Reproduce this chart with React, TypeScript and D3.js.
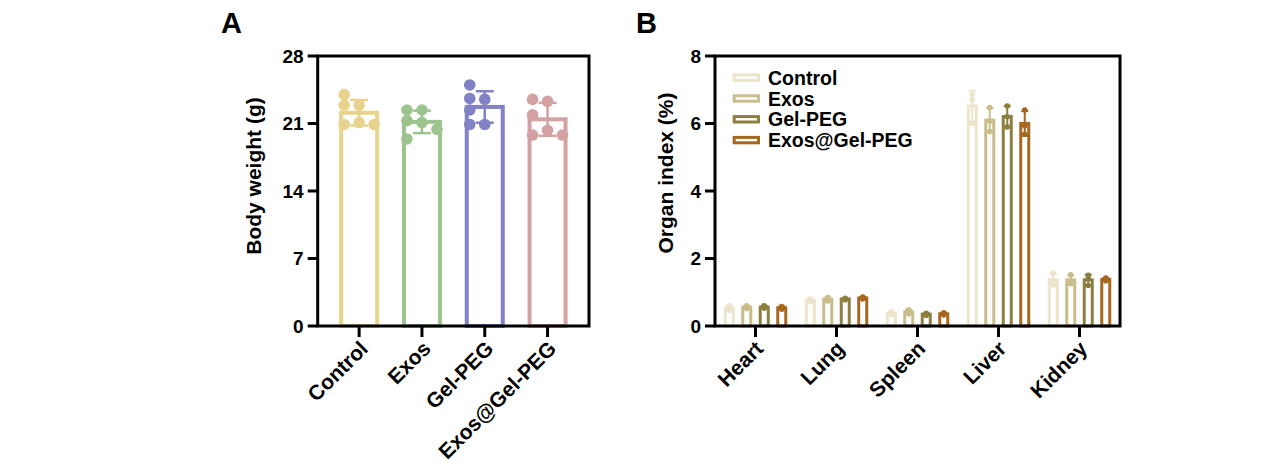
import { useEffect, useRef } from 'react'
import * as d3 from 'd3'

// Panel A: body weight (g), six mice per group
const GROUPS = ['Control', 'Exos', 'Gel-PEG', 'Exos@Gel-PEG']
const BW_COLORS = ['#E7D38C', '#9DC48F', '#8181C6', '#D3A1A1']
const BW_TICKS = [0, 7, 14, 21, 28]
const BW_CONTROL = [24.0, 22.9, 22.9, 20.9, 21.1, 20.9]
const BW_EXOS = [22.4, 22.4, 21.3, 21.1, 20.4, 19.4]
const BW_GEL = [25.0, 23.6, 23.5, 22.4, 20.9, 20.9]
const BW_EXOS_GEL = [23.5, 23.3, 21.9, 19.8, 20.3, 19.8]

// Panel B: organ index (%), three mice per group, one row per organ
const ORGANS = ['Heart', 'Lung', 'Spleen', 'Liver', 'Kidney']
const OI_COLORS = ['#ECE5CC', '#C9BD8C', '#8C7F40', '#A6671F']
const OI_TICKS = [0, 2, 4, 6, 8]
const OI_CONTROL = [[0.60, 0.52, 0.46], [0.80, 0.76, 0.72], [0.42, 0.37, 0.33], [6.85, 6.70, 6.00], [1.56, 1.32, 1.22]]
const OI_EXOS = [[0.60, 0.56, 0.52], [0.84, 0.79, 0.74], [0.48, 0.42, 0.36], [6.47, 6.07, 5.76], [1.52, 1.33, 1.25]]
const OI_GEL = [[0.60, 0.55, 0.53], [0.82, 0.80, 0.78], [0.38, 0.35, 0.32], [6.52, 6.20, 5.90], [1.50, 1.40, 1.20]]
const OI_EXOS_GEL = [[0.58, 0.54, 0.50], [0.86, 0.83, 0.80], [0.39, 0.36, 0.33], [6.40, 5.93, 5.68], [1.42, 1.38, 1.34]]

const FONT = '"Liberation Sans", Arial, sans-serif'
const Y0 = 326
const Y1 = 56

function sd(v: number[]) {
  return d3.deviation(v) ?? 0
}

// greedy beeswarm: horizontal offsets (in slots) so that dots don't stack
function swarm(ys: number[], minDist: number): number[] {
  const order = [-1, 0, 1, -2, 2]
  const placed: { s: number; y: number }[] = []
  return ys.map(y => {
    const s = order.find(c => !placed.some(p => p.s === c && Math.abs(p.y - y) < minDist)) ?? 0
    placed.push({ s, y })
    return s
  })
}

export default function App() {
  const svgRef = useRef<SVGSVGElement>(null)

  useEffect(() => {
    const svgEl = svgRef.current
    if (!svgEl) return
    const svg = d3.select(svgEl)
    svg.selectAll('*').remove()

    const label = (sel: d3.Selection<SVGTextElement, unknown, null, undefined>, size: number) =>
      sel.attr('font-family', FONT).attr('font-weight', 'bold').attr('font-size', size).attr('fill', '#000')

    // ---------- Panel A ----------
    {
      const L = 317.7, R = 589
      const x = d3.scalePoint<string>().domain(GROUPS).range([L, R]).padding(0.66)
      const y = d3.scaleLinear().domain([0, 28]).range([Y0, Y1])
      const data = [BW_CONTROL, BW_EXOS, BW_GEL, BW_EXOS_GEL]
      const g = svg.append('g')

      data.forEach((vals, i) => {
        const cx = x(GROUPS[i])!
        const m = d3.mean(vals)!
        const s = sd(vals)
        const c = BW_COLORS[i]
        g.append('rect')
          .attr('x', cx - 18).attr('width', 36)
          .attr('y', y(m)).attr('height', y(0) - y(m))
          .attr('fill', '#fff').attr('stroke', c).attr('stroke-width', 4)
        g.append('line').attr('x1', cx).attr('x2', cx).attr('y1', y(m - s)).attr('y2', y(m + s))
          .attr('stroke', c).attr('stroke-width', 2.5)
        ;[m - s, m + s].forEach(v => g.append('line')
          .attr('x1', cx - 9).attr('x2', cx + 9).attr('y1', y(v)).attr('y2', y(v))
          .attr('stroke', c).attr('stroke-width', 2.5))
        const slots = swarm(vals.map(v => y(v)), 10)
        vals.forEach((v, k) => g.append('circle')
          .attr('cx', cx + slots[k] * 15).attr('cy', y(v)).attr('r', 5.8).attr('fill', c))
      })

      g.append('rect').attr('x', L).attr('y', Y1).attr('width', R - L).attr('height', Y0 - Y1)
        .attr('fill', 'none').attr('stroke', '#000').attr('stroke-width', 3)
      BW_TICKS.forEach(t => {
        g.append('line').attr('x1', L - 10).attr('x2', L).attr('y1', y(t)).attr('y2', y(t))
          .attr('stroke', '#000').attr('stroke-width', 3)
        label(g.append('text'), 19).attr('x', L - 14).attr('y', y(t)).attr('dy', '0.36em')
          .attr('text-anchor', 'end').text(t)
      })
      GROUPS.forEach(name => {
        const cx = x(name)!
        g.append('line').attr('x1', cx).attr('x2', cx).attr('y1', Y0).attr('y2', Y0 + 11)
          .attr('stroke', '#000').attr('stroke-width', 3)
        label(g.append('text'), 21).attr('text-anchor', 'end')
          .attr('transform', `translate(${cx + 10},${Y0 + 24}) rotate(-45)`).text(name)
      })
      label(g.append('text'), 21).attr('text-anchor', 'middle')
        .attr('transform', `translate(261,176) rotate(-90)`).text('Body weight (g)')
      label(g.append('text'), 29).attr('x', 221).attr('y', 33).text('A')
    }

    // ---------- Panel B ----------
    {
      const L = 715, R = 1120
      const x = d3.scaleBand<string>().domain(ORGANS).range([L, R])
      const xi = d3.scaleBand<string>().domain(GROUPS).range([-35, 35])
      const y = d3.scaleLinear().domain([0, 8]).range([Y0, Y1])
      const data = [OI_CONTROL, OI_EXOS, OI_GEL, OI_EXOS_GEL]
      const g = svg.append('g')

      ORGANS.forEach((organ, o) => {
        data.forEach((grp, i) => {
          const vals = grp[o]
          const cx = x(organ)! + x.bandwidth() / 2 + xi(GROUPS[i])! + xi.bandwidth() / 2
          const m = d3.mean(vals)!
          const s = sd(vals)
          const c = OI_COLORS[i]
          g.append('rect')
            .attr('x', cx - 4).attr('width', 8)
            .attr('y', y(m)).attr('height', y(0) - y(m))
            .attr('fill', '#fff').attr('stroke', c).attr('stroke-width', 3)
          g.append('line').attr('x1', cx).attr('x2', cx).attr('y1', y(m - s)).attr('y2', y(m + s))
            .attr('stroke', c).attr('stroke-width', 2)
          ;[m - s, m + s].forEach(v => g.append('line')
            .attr('x1', cx - 3.5).attr('x2', cx + 3.5).attr('y1', y(v)).attr('y2', y(v))
            .attr('stroke', c).attr('stroke-width', 2))
          vals.forEach(v => g.append('circle').attr('cx', cx).attr('cy', y(v)).attr('r', 2.8).attr('fill', c))
        })
      })

      g.append('rect').attr('x', L).attr('y', Y1).attr('width', R - L).attr('height', Y0 - Y1)
        .attr('fill', 'none').attr('stroke', '#000').attr('stroke-width', 3)
      OI_TICKS.forEach(t => {
        g.append('line').attr('x1', L - 10).attr('x2', L).attr('y1', y(t)).attr('y2', y(t))
          .attr('stroke', '#000').attr('stroke-width', 3)
        label(g.append('text'), 19).attr('x', L - 14).attr('y', y(t)).attr('dy', '0.36em')
          .attr('text-anchor', 'end').text(t)
      })
      ORGANS.forEach(name => {
        const cx = x(name)! + x.bandwidth() / 2
        g.append('line').attr('x1', cx).attr('x2', cx).attr('y1', Y0).attr('y2', Y0 + 11)
          .attr('stroke', '#000').attr('stroke-width', 3)
        label(g.append('text'), 21).attr('text-anchor', 'end')
          .attr('transform', `translate(${cx + 9},${Y0 + 24}) rotate(-45)`).text(name)
      })
      label(g.append('text'), 21).attr('text-anchor', 'middle')
        .attr('transform', `translate(673,173) rotate(-90)`).text('Organ index (%)')
      label(g.append('text'), 29).attr('x', 636).attr('y', 33).text('B')

      // legend
      GROUPS.forEach((name, i) => {
        const ly = 77.7 + i * 20.8
        g.append('rect').attr('x', 734.2).attr('y', ly - 2.7).attr('width', 24.3).attr('height', 5.4)
          .attr('fill', '#fff').attr('stroke', OI_COLORS[i]).attr('stroke-width', 3)
        label(g.append('text'), 19.5).attr('x', 768).attr('y', ly).attr('dy', '0.36em').text(name)
      })
    }
  }, [])

  return (
    <svg
      ref={svgRef}
      width={1269}
      height={467}
      style={{ position: 'absolute', left: 0, top: 0, background: '#fff' }}
    />
  )
}
